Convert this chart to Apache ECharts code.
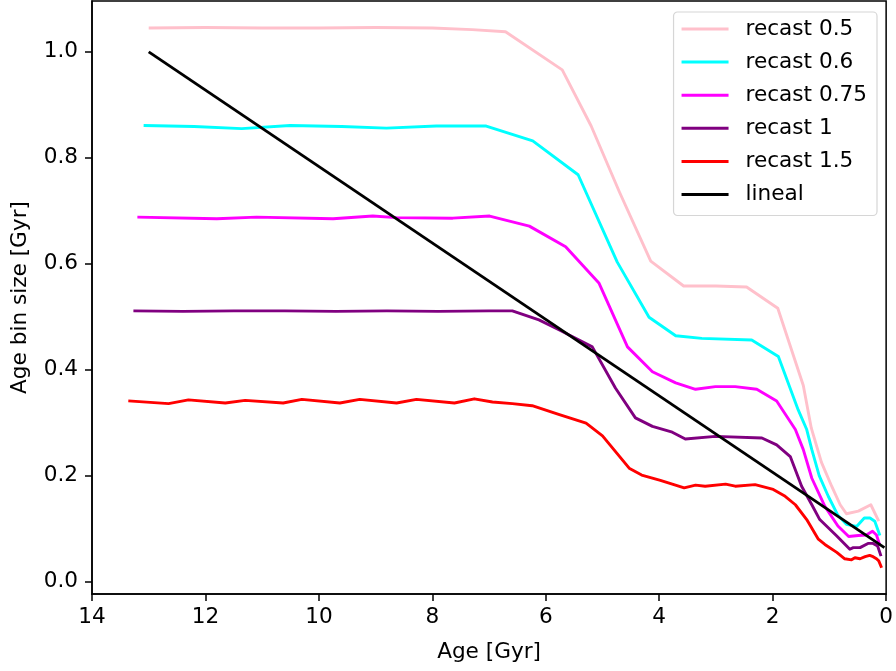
<!DOCTYPE html>
<html>
<head>
<meta charset="utf-8">
<script src="https://cdn.jsdelivr.net/npm/echarts@6/dist/echarts.min.js"></script>
<style>html,body{margin:0;padding:0;background:#fff;}#c{width:896px;height:671px;}</style>
</head>
<body>
<div id="c"></div>
<script>
var xTicks = [0, 2, 4, 6, 8, 10, 12, 14];
var yTicks = [0.0, 0.2, 0.4, 0.6, 0.8, 1.0];
var seriesNames = ['recast 0.5', 'recast 0.6', 'recast 0.75', 'recast 1', 'recast 1.5', 'lineal'];

var recast05 = [[13.0,1.045],[12.0,1.046],[11.0,1.045],[10.0,1.045],[9.0,1.046],[8.0,1.045],[7.3,1.042],[6.71,1.038],[5.71,0.966],[5.2,0.86],[4.7,0.735],[4.15,0.605],[3.57,0.558],[3.0,0.558],[2.46,0.556],[1.91,0.516],[1.46,0.37],[1.32,0.29],[1.14,0.225],[0.96,0.18],[0.81,0.145],[0.70,0.128],[0.49,0.133],[0.27,0.145],[0.13,0.114]];
var recast06 = [[13.09,0.861],[12.2,0.859],[11.36,0.855],[10.51,0.861],[9.6,0.859],[8.81,0.856],[7.93,0.860],[7.05,0.860],[6.23,0.832],[5.43,0.768],[4.74,0.603],[4.18,0.499],[3.71,0.464],[3.25,0.459],[2.37,0.456],[1.90,0.425],[1.55,0.324],[1.40,0.287],[1.31,0.249],[1.18,0.20],[1.02,0.161],[0.85,0.125],[0.70,0.108],[0.52,0.104],[0.385,0.120],[0.285,0.120],[0.20,0.114],[0.11,0.087]];
var recast075 = [[13.2,0.688],[11.8,0.685],[11.1,0.688],[9.75,0.685],[9.05,0.690],[8.63,0.687],[7.64,0.686],[6.99,0.690],[6.29,0.671],[5.65,0.632],[5.06,0.563],[4.56,0.443],[4.12,0.396],[3.71,0.375],[3.36,0.363],[3.01,0.368],[2.66,0.368],[2.28,0.363],[1.93,0.341],[1.60,0.287],[1.46,0.249],[1.31,0.195],[1.08,0.142],[0.85,0.105],[0.66,0.085],[0.49,0.087],[0.35,0.088],[0.24,0.095],[0.17,0.088],[0.11,0.068]];
var recast1 = [[13.27,0.511],[12.4,0.510],[11.5,0.511],[10.6,0.511],[9.7,0.510],[8.8,0.511],[7.9,0.510],[7.0,0.511],[6.59,0.511],[6.12,0.494],[5.76,0.475],[5.18,0.443],[4.77,0.365],[4.42,0.309],[4.12,0.293],[3.77,0.282],[3.54,0.269],[3.01,0.274],[2.19,0.271],[1.93,0.258],[1.69,0.236],[1.49,0.180],[1.31,0.145],[1.17,0.117],[0.87,0.086],[0.64,0.061],[0.58,0.064],[0.46,0.064],[0.32,0.072],[0.23,0.072],[0.15,0.067],[0.09,0.048]];
var recast15 = [[13.36,0.341],[12.65,0.336],[12.30,0.343],[11.65,0.337],[11.30,0.342],[10.63,0.337],[10.30,0.344],[9.63,0.337],[9.28,0.344],[8.63,0.337],[8.28,0.344],[7.61,0.337],[7.26,0.345],[6.94,0.339],[6.59,0.336],[6.24,0.332],[5.76,0.315],[5.29,0.299],[5.0,0.275],[4.53,0.214],[4.31,0.201],[3.98,0.191],[3.56,0.177],[3.36,0.182],[3.19,0.180],[2.83,0.184],[2.66,0.180],[2.31,0.183],[1.99,0.174],[1.78,0.161],[1.60,0.145],[1.40,0.117],[1.195,0.080],[1.08,0.070],[0.87,0.055],[0.73,0.043],[0.61,0.041],[0.55,0.045],[0.46,0.043],[0.37,0.047],[0.29,0.0495],[0.23,0.047],[0.17,0.043],[0.13,0.039],[0.08,0.026]];
var lineal = [[13.0,1.0],[0.03,0.064]];

var seriesData = [recast05, recast06, recast075, recast1, recast15, lineal];
var colors = ['#ffc0cb', '#00ffff', '#ff00ff', '#800080', '#ff0000', '#000000'];

var FONT = 'DejaVu Sans';
var FS = 21.6;
var chart = echarts.init(document.getElementById('c'), null, {renderer: 'canvas'});
chart.setOption({
  animation: false,
  backgroundColor: '#ffffff',
  grid: {left: 92, right: 8, top: 1, bottom: 77, show: true, borderColor: '#000', borderWidth: 1.5, backgroundColor: 'transparent'},
  legend: {
    data: seriesNames,
    orient: 'vertical',
    right: 19,
    top: 12,
    icon: 'rect',
    itemWidth: 47,
    itemHeight: 3,
    itemGap: 11.1,
    padding: [6, 10, 10, 8],
    backgroundColor: '#ffffff',
    borderColor: '#d6d6d6',
    borderWidth: 1.2,
    borderRadius: 4,
    textStyle: {fontFamily: FONT, fontSize: FS, color: '#000', lineHeight: 21.6, padding: [0, 0, 0, 12]}
  },
  xAxis: {
    type: 'value', inverse: true, min: 0, max: 14, interval: 2,
    name: 'Age [Gyr]', nameLocation: 'middle', nameGap: 47,
    nameTextStyle: {fontFamily: FONT, fontSize: FS, color: '#000'},
    axisLine: {show: true, onZero: false, lineStyle: {color: '#000', width: 1.5}},
    axisTick: {show: true, inside: false, length: 7, lineStyle: {color: '#000', width: 1.5}},
    axisLabel: {fontFamily: FONT, fontSize: FS, color: '#000', margin: 12, formatter: function (v) { return String(v); }},
    splitLine: {show: false}
  },
  yAxis: {
    type: 'value', min: -0.0235, max: 1.096,
    name: 'Age bin size [Gyr]', nameLocation: 'middle', nameGap: 61, nameRotate: 90,
    nameTextStyle: {fontFamily: FONT, fontSize: FS, color: '#000'},
    axisLine: {show: true, onZero: false, lineStyle: {color: '#000', width: 1.5}},
    axisTick: {show: true, inside: false, length: 7, customValues: yTicks, lineStyle: {color: '#000', width: 1.5}},
    axisLabel: {fontFamily: FONT, fontSize: FS, color: '#000', margin: 14, customValues: yTicks, formatter: function (v) { return v.toFixed(1); }},
    splitLine: {show: false}
  },
  series: seriesData.map(function (d, i) {
    return {
      name: seriesNames[i], type: 'line', data: d, showSymbol: false, symbol: 'none',
      lineStyle: {color: colors[i], width: 2.9, join: 'round', cap: 'butt'},
      itemStyle: {color: colors[i]},
      clip: true
    };
  })
});
</script>
</body>
</html>
